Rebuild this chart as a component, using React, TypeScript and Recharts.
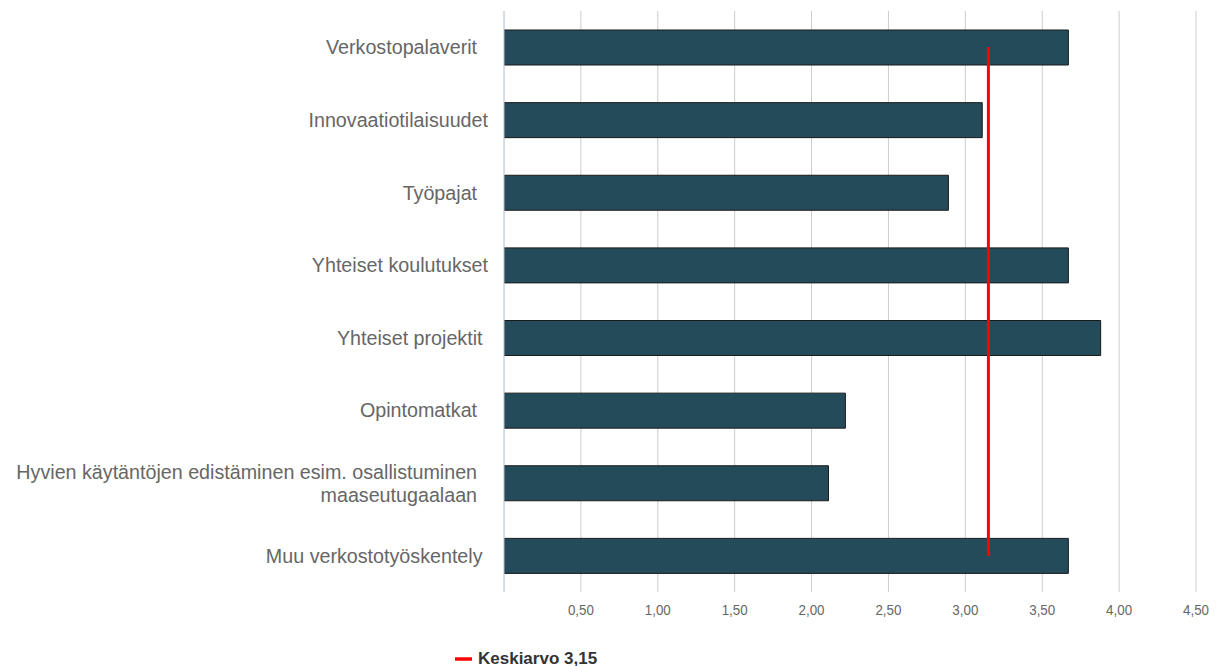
import React from 'react';
import { ComposedChart, Bar, Line, XAxis, YAxis, CartesianGrid, Legend, Text } from 'recharts';

const categories = [
  'Verkostopalaverit\u00a0\u00a0',
  'Innovaatiotilaisuudet',
  'Työpajat\u00a0\u00a0',
  'Yhteiset koulutukset',
  'Yhteiset projektit\u00a0',
  'Opintomatkat\u00a0\u00a0',
  'Hyvien käytäntöjen edistäminen esim. osallistuminen\u00a0\u00a0 maaseutugaalaan\u00a0\u00a0',
  'Muu verkostotyöskentely\u00a0',
];
const values = [3.67, 3.11, 2.89, 3.67, 3.88, 2.22, 2.11, 3.67];
const average = 3.15;
const averageLabel = 'Keskiarvo 3,15';
const xTicks = [0.5, 1, 1.5, 2, 2.5, 3, 3.5, 4, 4.5];

const data = categories.map((name, i) => ({ name, value: values[i], avg: average }));

const FONT = "'Liberation Sans', Arial, sans-serif";
const catStyle = { fontSize: 19.7, fontFamily: FONT };

const CatTick = (props: any) => {
  const { x, y, payload } = props;
  return (
    <Text
      x={x}
      y={y}
      width={485}
      textAnchor="end"
      verticalAnchor="middle"
      lineHeight="1.1675em"
      capHeight="0.71em"
      style={catStyle}
      fontSize={19.7}
      fontFamily={FONT}
      fill="#666666"
    >
      {payload.value}
    </Text>
  );
};

const NumTick = (props: any) => {
  const { x, y, payload } = props;
  const label = Number(payload.value).toFixed(2).replace('.', ',');
  return (
    <text
      x={x}
      y={y}
      dy={12}
      textAnchor="middle"
      fontSize={15}
      fontFamily={FONT}
      fill="#666666"
      textLength={26}
      lengthAdjust="spacingAndGlyphs"
    >
      {label}
    </text>
  );
};

const LegendContent = () => (
  <div style={{ display: 'flex', alignItems: 'center', fontFamily: FONT, fontSize: 17, fontWeight: 'bold', color: '#333' }}>
    <svg width={17} height={4} style={{ marginRight: 6 }}>
      <line x1={0} y1={2} x2={17} y2={2} stroke="#ff0000" strokeWidth={3.5} />
    </svg>
    <span>{averageLabel}</span>
  </div>
);

export default function App() {
  return (
    <ComposedChart
      layout="vertical"
      width={1209}
      height={658}
      data={data}
      margin={{ top: 3, right: 21, bottom: 24, left: 0 }}
    >
      <CartesianGrid horizontal={false} vertical={true} stroke="#cccccc" />
      <XAxis
        type="number"
        domain={[0, 4.5]}
        ticks={xTicks}
        allowDataOverflow
        axisLine={false}
        tickLine={false}
        tickMargin={5}
        height={30}
        tick={<NumTick />}
      />
      <YAxis
        type="category"
        dataKey="name"
        width={496}
        axisLine={{ stroke: '#c3d2e3' }}
        tickLine={false}
        tickMargin={10}
        interval={0}
        tick={<CatTick />}
      />
      <Bar dataKey="value" fill="#244b5a" stroke="#1a1a1a" strokeWidth={1} barSize={35} isAnimationActive={false} />
      <Line dataKey="avg" stroke="#ff0000" strokeWidth={3} dot={false} activeDot={false} isAnimationActive={false} />
      <Legend
        content={<LegendContent />}
        verticalAlign="bottom"
        wrapperStyle={{ position: 'absolute', left: 447, bottom: -3, width: 'auto', height: 'auto' }}
      />
    </ComposedChart>
  );
}
